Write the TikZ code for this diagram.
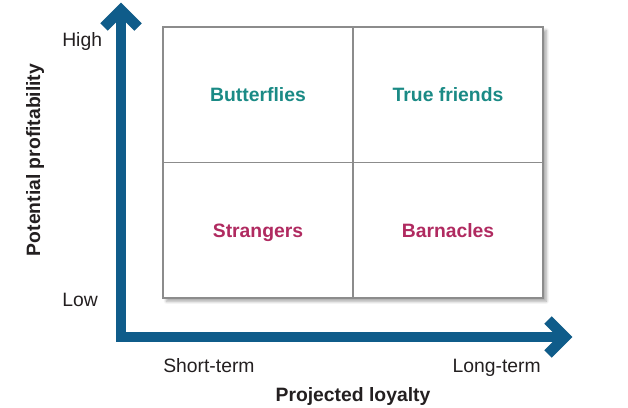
\documentclass[tikz,border=0pt]{standalone}
\usepackage{fontspec}
\setmainfont{Liberation Sans}
\usetikzlibrary{shadows.blur}
\definecolor{axisblue}{HTML}{0F5C8A}
\definecolor{teal}{HTML}{1A8A85}
\definecolor{mag}{HTML}{B02A60}
\definecolor{txt}{HTML}{231F20}
\definecolor{boxgray}{HTML}{8C8C8C}
\tikzset{
  axisline/.style={draw=axisblue, line width=7.8pt, line join=miter, line cap=butt},
  axisshadow/.style={draw=black, line width=7.8pt, line join=miter, line cap=butt, opacity=0.07},
  quad/.style={font=\fontsize{14.5pt}{17pt}\selectfont\bfseries, inner sep=0pt, anchor=base},
  lbl/.style={font=\fontsize{14.5pt}{17pt}\selectfont, text=txt, inner sep=0pt},
  title/.style={font=\fontsize{14.5pt}{17pt}\selectfont\bfseries, text=txt, inner sep=0pt, anchor=base},
}
\begin{document}
\begin{tikzpicture}[x=0.75pt,y=-0.75pt]
\useasboundingbox (0,0) rectangle (628,407);
% grid box
\node[draw=boxgray, line width=0.9pt, fill=white, minimum width=380*0.75pt, minimum height=271*0.75pt, inner sep=0pt,
  blur shadow={shadow xshift=2.5pt, shadow yshift=-2.5pt, shadow blur steps=8, shadow opacity=35}] (grid) at (353,162.5) {};
\draw[boxgray, line width=0.9pt] (grid.north) -- (grid.south);
\draw[boxgray, line width=0.9pt] (grid.west) -- (grid.east);
% axes
\coordinate (ytip) at (121,10);
\coordinate (origin) at (121,337);
\coordinate (xtip) at (565,337);
\coordinate (yl) at (104,27);
\coordinate (yr) at (138,27);
\coordinate (xu) at (548,320);
\coordinate (xd) at (548,354);
\foreach \d in {2,3,4}{
  \begin{scope}[shift={(\d,\d)}]
  \draw[axisshadow] (ytip) -- (origin) -- (xtip);
  \draw[axisshadow] (yl) -- (ytip) -- (yr);
  \draw[axisshadow] (xu) -- (xtip) -- (xd);
  \end{scope}
}
\draw[axisline] (ytip) -- (origin) -- (xtip);
\draw[axisline] (yl) -- (ytip) -- (yr);
\draw[axisline] (xu) -- (xtip) -- (xd);
% quadrant labels
\node[quad, text=teal] (bf) at (258,101) {Butterflies};
\node[quad, text=teal] (tf) at (448,101) {True friends};
\node[quad, text=mag] (st) at (258,237) {Strangers};
\node[quad, text=mag] (bn) at (448,237) {Barnacles};
% axis labels
\node[lbl, anchor=base west] (high) at (62,46) {High};
\node[lbl, anchor=base west] (low) at (62,306) {Low};
\node[lbl, anchor=base west] (short) at (163,372) {Short-term};
\node[lbl, anchor=base east] (long) at (541,372) {Long-term};
\node[title] (xt) at (353,401) {Projected loyalty};
\node[title, rotate=90] (yt) at (40,160) {Potential profitability};
\end{tikzpicture}
\end{document}
